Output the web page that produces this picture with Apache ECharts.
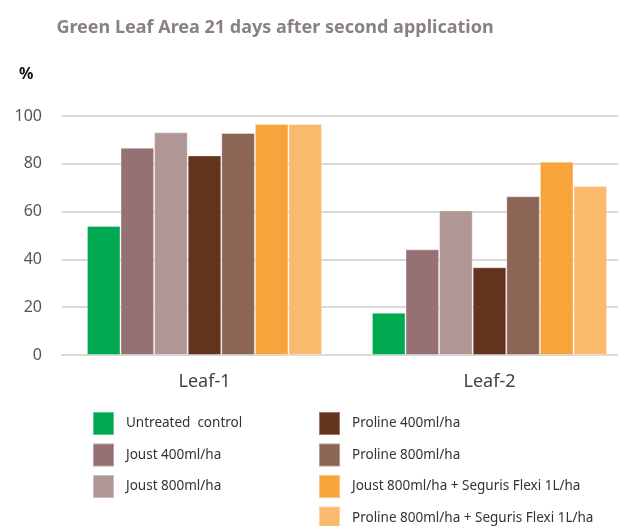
<!DOCTYPE html>
<html><head><meta charset="utf-8">
<script src="https://cdn.jsdelivr.net/npm/echarts@6/dist/echarts.min.js"></script>
<style>html,body{margin:0;padding:0;background:#fff}#c{width:618px;height:526px}</style>
</head><body><div id="c"></div>
<script>
const categories = ['Leaf-1', 'Leaf-2'];
const seriesNames = ['Untreated  control', 'Joust 400ml/ha', 'Joust 800ml/ha', 'Proline 400ml/ha', 'Proline 800ml/ha', 'Joust 800ml/ha + Seguris Flexi 1L/ha', 'Proline 800ml/ha + Seguris Flexi 1L/ha'];
const untreated = [54, 17.7];
const joust400 = [86.7, 44.2];
const joust800 = [93.2, 60.5];
const proline400 = [83.5, 36.7];
const proline800 = [92.9, 66.4];
const joustSeguris = [96.7, 80.9];
const prolineSeguris = [96.7, 70.7];
const yTicks = [0, 20, 40, 60, 80, 100];

const values = [untreated, joust400, joust800, proline400, proline800, joustSeguris, prolineSeguris];
const colors = ['#00A94F', '#967173', '#B09795', '#63331E', '#8B6657', '#F7A43B', '#F9BA6D'];
const font = 'Noto Sans';

const chart = echarts.init(document.getElementById('c'), null, {renderer: 'canvas'});
const legendCommon = {
  orient: 'vertical', itemWidth: 21, itemHeight: 23, itemGap: 6.5, icon: 'rect', padding: 0,
  height: 140,
  textStyle: {fontFamily: font, fontSize: 13.5, color: '#333', padding: [0, 0, 0, 7]},
  selectedMode: false
};
chart.setOption({
  animation: false,
  title: {
    text: 'Green Leaf Area 21 days after second application', left: 270, textAlign: 'center', top: 14,
    textStyle: {fontFamily: font, fontSize: 18, fontWeight: 'bold', color: '#8a8280'}
  },
  graphic: [{type: 'text', left: 19, top: 66, style: {text: '%', font: 'bold 16px "Noto Sans"', fill: '#111'}}],
  legend: [
    Object.assign({left: 92, top: 411, data: seriesNames.slice(0, 3)}, legendCommon),
    Object.assign({left: 318, top: 411, data: seriesNames.slice(3)}, legendCommon)
  ],
  grid: {left: 62, width: 570, top: 116, height: 239, containLabel: false, outerBoundsMode: 'none'},
  xAxis: {
    type: 'category', data: categories,
    axisLine: {lineStyle: {color: '#d9d9d9', width: 2}},
    axisTick: {show: false},
    axisLabel: {fontFamily: font, fontSize: 18, color: '#444', margin: 18}
  },
  yAxis: {
    type: 'value', min: 0, max: 100, interval: 20,
    axisLine: {show: false}, axisTick: {show: false},
    splitLine: {lineStyle: {color: '#d9d9d9', width: 2}},
    axisLabel: {fontFamily: font, fontSize: 16, color: '#555', margin: 20,
      formatter: v => yTicks.includes(v) ? String(v) : ''}
  },
  series: seriesNames.map((n, i) => ({
    name: n, type: 'bar', data: values[i], barGap: '0%', barCategoryGap: '17.5%',
    itemStyle: {color: colors[i], borderColor: 'rgba(255,255,255,0.35)', borderWidth: 1}
  }))
});
</script></body></html>
